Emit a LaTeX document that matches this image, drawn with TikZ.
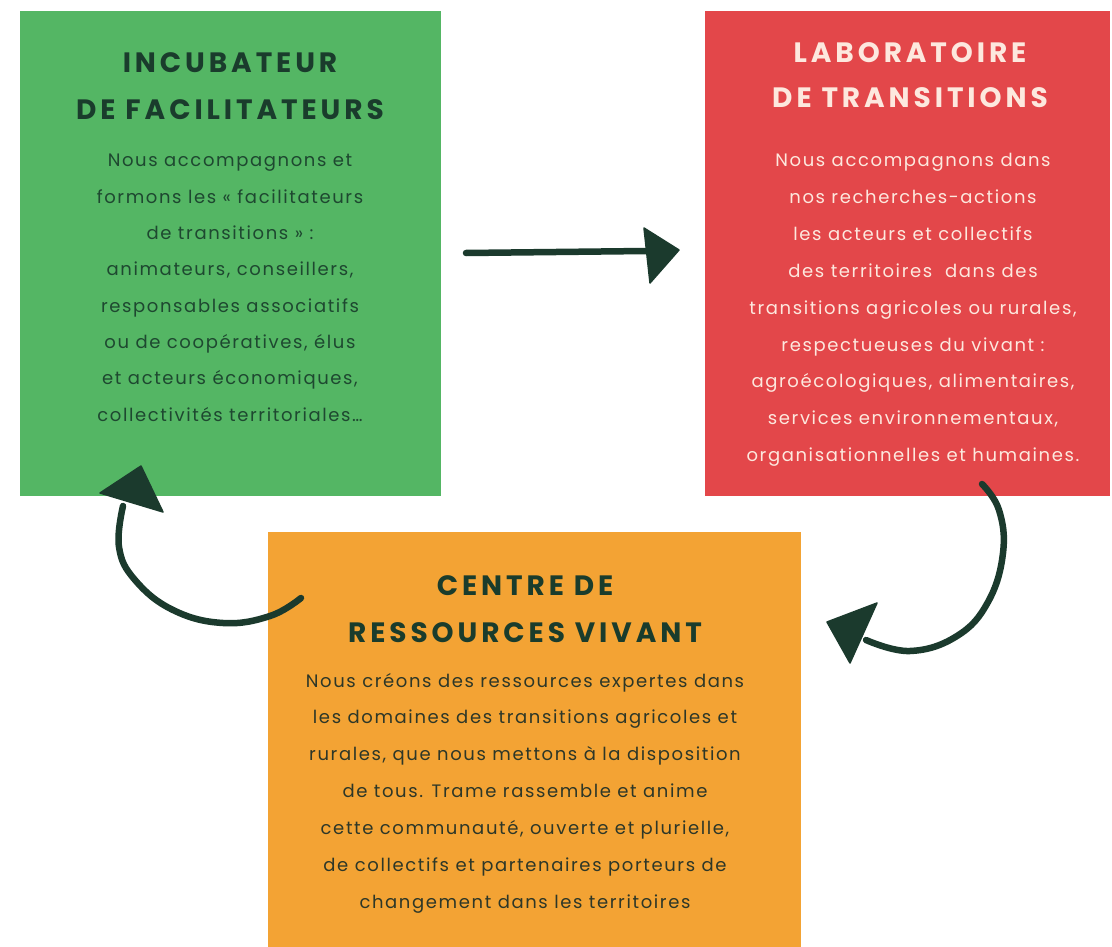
\documentclass[tikz,border=0pt]{standalone}
\usepackage{fontspec}
\setmainfont{Poppins}
\newfontfamily\titlefont[LetterSpace=14]{Poppins}
\newfontfamily\bodyfont[LetterSpace=9]{Poppins}
\definecolor{boxgreen}{RGB}{84,182,100}
\definecolor{boxred}{RGB}{227,71,74}
\definecolor{boxorange}{RGB}{243,163,52}
\definecolor{darkink}{RGB}{26,60,44}
\definecolor{greenink}{RGB}{30,72,48}
\definecolor{redink}{RGB}{253,232,222}
\definecolor{orangeink}{RGB}{45,55,40}
\definecolor{arrowink}{RGB}{27,58,45}
\begin{document}
\begin{tikzpicture}[x=1pt,y=-1pt,
  boxshape/.style={draw=none,inner sep=0pt,anchor=north west},
  titletext/.style={inner sep=0pt,anchor=base,font=\titlefont\bfseries\fontsize{28}{32}\selectfont},
  bodytext/.style={inner sep=0pt,anchor=base,font=\bodyfont\fontsize{18}{22}\selectfont},
  shaft/.style={draw=arrowink,line width=6.5pt,line cap=round,line join=round},
  headtri/.style={fill=arrowink,draw=arrowink,line width=1.5pt,line join=round}]
\useasboundingbox (0,0) rectangle (1112,947);
\fill[white] (0,0) rectangle (1112,947);
% boxes
\node[boxshape,fill=boxgreen,minimum width=421pt,minimum height=485pt] (inc) at (20,11) {};
\node[boxshape,fill=boxred,minimum width=405pt,minimum height=485pt] (lab) at (705,11) {};
\node[boxshape,fill=boxorange,minimum width=533pt,minimum height=416pt] (cen) at (268,532) {};
% green texts
\node[titletext,text=darkink] (incT1) at (230,73) {INCUBATEUR};
\node[titletext,text=darkink] (incT2) at (230,120) {DE FACILITATEURS};
\foreach \t [count=\i] in {{Nous accompagnons et},{formons les « facilitateurs},{de transitions » :},{animateurs, conseillers,},{responsables associatifs},{ou de coopératives, élus},{et acteurs économiques,},{collectivités territoriales…}}
  \node[bodytext,text=greenink] (incB\i) at (230,{167+(\i-1)*36.3}) {\t};
% red texts
\node[titletext,text=redink] (labT1) at (910,63) {LABORATOIRE};
\node[titletext,text=redink] (labT2) at (910,108) {DE TRANSITIONS};
\foreach \t [count=\i] in {{Nous accompagnons dans},{nos recherches-actions},{les acteurs et collectifs},{des territoires\ \ dans des},{transitions agricoles ou rurales,},{respectueuses du vivant :},{agroécologiques, alimentaires,},{services environnementaux,},{organisationnelles et humaines.}}
  \node[bodytext,text=redink] (labB\i) at (913,{167+(\i-1)*36.8}) {\t};
% orange texts
\node[titletext,text=darkink] (cenT1) at (525,595) {CENTRE DE};
\node[titletext,text=darkink] (cenT2) at (525,642) {RESSOURCES VIVANT};
\foreach \t [count=\i] in {{Nous créons des ressources expertes dans},{les domaines des transitions agricoles et},{rurales, que nous mettons à la disposition},{de tous. Trame rassemble et anime},{cette communauté, ouverte et plurielle,},{de collectifs et partenaires porteurs de},{changement dans les territoires}}
  \node[bodytext,text=orangeink] (cenB\i) at (525,{687+(\i-1)*36.9}) {\t};
% arrow 1: incubateur -> laboratoire
\coordinate (a1s) at (466,253);
\coordinate (a1e) at (646,251);
\draw[shaft] (a1s) -- (a1e);
\fill[headtri] (644,228) -- (679,250) -- (650,283) -- cycle;
% arrow 2: centre -> incubateur
\draw[shaft] plot[smooth,tension=0.7] coordinates {(301,598) (270,616) (223,623) (173,610) (135,580) (119,547) (123,506)};
\fill[headtri] (100,493) -- (141,466) -- (163,512) -- cycle;
% arrow 3: laboratoire -> centre
\draw[shaft] plot[smooth,tension=0.7] coordinates {(982,484) (999,510) (1003,553) (988,602) (957,636) (910,651) (866,640)};
\fill[headtri] (827,622) -- (877,603) -- (850,663) -- cycle;
\end{tikzpicture}
\end{document}
